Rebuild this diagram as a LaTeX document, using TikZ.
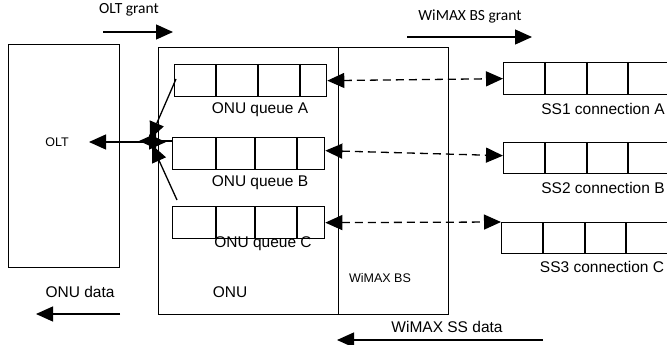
\documentclass[tikz,border=0pt]{standalone}
\usepackage{fontspec}
\setmainfont{Liberation Sans}
\newfontfamily\calfont{Carlito}
\usetikzlibrary{arrows.meta}
\begin{document}
\begin{tikzpicture}[x=1pt,y=-1pt,
  box/.style={draw, line width=1.3pt, inner sep=0pt, anchor=north west},
  cell/.style={line width=1.3pt},
  lbl/.style={font=\fontsize{15.5}{18}\selectfont, inner sep=0pt},
  small/.style={font=\fontsize{12.5}{14}\selectfont, inner sep=0pt},
  gr/.style={font=\calfont\fontsize{15.5}{18}\selectfont, inner sep=0pt},
  arr/.style={line width=1.3pt, -{Triangle[length=17pt,width=15pt]}},
  darr/.style={line width=1.3pt, {Triangle[length=17pt,width=15pt]}-{Triangle[length=17pt,width=15pt]}},
  dsharr/.style={line width=1.3pt, dash pattern=on 8pt off 5pt, {Triangle[length=17pt,width=15pt]}-{Triangle[length=17pt,width=15pt]}}]
\useasboundingbox (0,0) rectangle (667,345);
\clip (0,0) rectangle (667,345);
% main boxes
\node[box, minimum width=111pt, minimum height=223pt] (olt) at (8,44) {};
\node[small] (oltl) at (57,142) {OLT};
\node[box, minimum width=180pt, minimum height=267pt] (onu) at (158,47) {};
\node[box, minimum width=110pt, minimum height=267pt] (bs) at (338,47) {};
\node[lbl] (onul) at (230,292) {ONU};
\node[small] (bsl) at (380,278) {WiMAX BS};
% ONU queues
\node[box, minimum width=152pt, minimum height=32pt] (qa) at (174,64) {};
\foreach \x in {216,258,300} \draw[cell] (\x,64) -- (\x,96);
\node[box, minimum width=152pt, minimum height=32pt] (qb) at (172,137) {};
\foreach \x in {216,255,297} \draw[cell] (\x,137) -- (\x,169);
\node[box, minimum width=152pt, minimum height=32pt] (qc) at (172,206) {};
\foreach \x in {216,255,297} \draw[cell] (\x,206) -- (\x,238);
\node[lbl] (qal) at (260,110) {ONU queue A};
\node[lbl] (qbl) at (260,183) {ONU queue B};
\node[lbl] (qcl) at (263,244) {ONU queue C};
% SS queues
\node[box, minimum width=200pt, minimum height=32pt] (ss1) at (503,62) {};
\foreach \x in {545,587,628} \draw[cell] (\x,62) -- (\x,94);
\node[box, minimum width=200pt, minimum height=31pt] (ss2) at (503,142) {};
\foreach \x in {545,587,628} \draw[cell] (\x,142) -- (\x,173);
\node[box, minimum width=200pt, minimum height=31pt] (ss3) at (501,222) {};
\foreach \x in {543,585,626} \draw[cell] (\x,222) -- (\x,253);
\node[lbl] (ss1l) at (603,109) {SS1 connection A};
\node[lbl] (ss2l) at (603,188) {SS2 connection B};
\node[lbl] (ss3l) at (602,267) {SS3 connection C};
% dashed links
\draw[dsharr] (qa.east) -- (ss1.west);
\draw[dsharr] ([yshift=3pt]qb.east) -- ([yshift=2.5pt]ss2.west);
\draw[dsharr] (qc.east) -- (ss3.north west);
% hub
\coordinate (oltp) at (89,142);
\coordinate (hubr) at (166,142);
\coordinate (qbp) at (172,141);
\coordinate (hubl) at (139,141);
\coordinate (qap) at (176,79);
\coordinate (huba) at (150,139);
\coordinate (qcp) at (177,200);
\coordinate (hubc) at (152,145);
\draw[darr] (oltp) -- (hubr);
\draw[arr] (qbp) -- (hubl);
\draw[arr] (qap) -- (huba);
\draw[arr] (qcp) -- (hubc);
% grants and data
\node[gr] (g1) at (129,10) {OLT grant};
\coordinate (g1s) at (103,32); \coordinate (g1e) at (173,32);
\draw[arr] (g1s) -- (g1e);
\node[gr] (g2) at (470,17) {WiMAX BS grant};
\coordinate (g2s) at (407,37); \coordinate (g2e) at (532,37);
\draw[arr] (g2s) -- (g2e);
\node[lbl] (d1) at (80,292) {ONU data};
\coordinate (d1s) at (120,314); \coordinate (d1e) at (36,314);
\draw[arr] (d1s) -- (d1e);
\node[lbl] (d2) at (447,327) {WiMAX SS data};
\coordinate (d2s) at (543,340); \coordinate (d2e) at (337,340);
\draw[arr] (d2s) -- (d2e);
\end{tikzpicture}
\end{document}
